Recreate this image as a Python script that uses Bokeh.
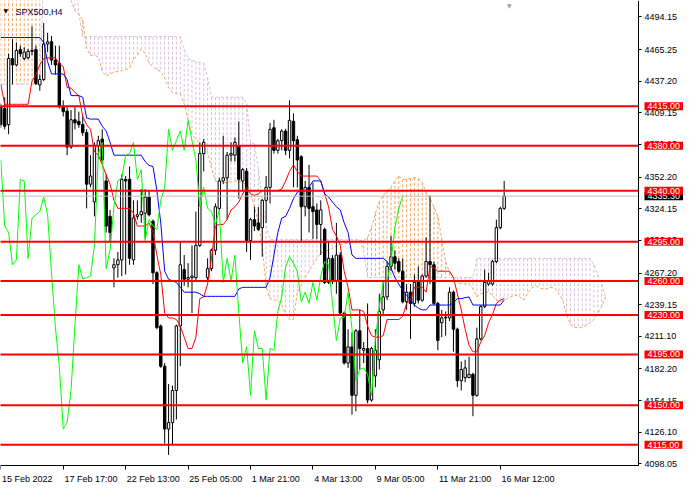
from bokeh.plotting import figure
from bokeh.models import Range1d, LinearAxis, FixedTicker, NumeralTickFormatter, Label
from bokeh.embed import file_html
from bokeh.resources import INLINE

# ---------------- data ----------------
symbol_title = "SPX500,H4"
first_bar = -1  # index of the first candle on screen

opens = [4414.5, 4413.0, 4398.7, 4457.3, 4451.6, 4465.3, 4457.3, 4457.9, 4463.6, 4465.3,
         4433.9, 4438.7, 4470.2, 4472.1, 4455.9, 4453.0, 4414.5, 4410.7, 4378.8, 4403.0,
         4401.6, 4398.7, 4391.6, 4345.9, 4330.2, 4380.2, 4385.9, 4348.8, 4317.4, 4271.7,
         4274.5, 4278.8, 4350.2, 4350.2, 4278.8, 4317.4, 4318.8, 4320.2, 4334.5, 4313.1,
         4267.4, 4220.2, 4184.6, 4128.9, 4134.6, 4163.1, 4220.2, 4270.2, 4261.7, 4263.1,
         4263.1, 4291.6, 4373.0, 4263.1, 4271.1, 4287.4, 4324.5, 4348.8, 4351.6, 4371.6,
         4371.6, 4380.2, 4348.8, 4357.3, 4295.9, 4314.5, 4311.6, 4307.4, 4331.6, 4343.1,
         4395.9, 4375.9, 4384.5, 4393.0, 4375.9, 4401.6, 4385.3, 4370.2, 4325.9, 4343.1,
         4325.9, 4323.1, 4310.2, 4305.9, 4258.8, 4280.2, 4260.2, 4283.1, 4231.7, 4187.4,
         4201.7, 4158.8, 4216.0, 4198.8, 4200.3, 4154.6, 4176.0, 4190.3, 4234.5, 4246.0,
         4273.1, 4281.6, 4277.4, 4268.8, 4241.7, 4250.2, 4240.2, 4258.8, 4243.1, 4264.5,
         4277.4, 4274.5, 4240.2, 4223.1, 4227.4, 4227.4, 4250.2, 4217.4, 4171.7, 4174.5,
         4174.5, 4177.4, 4158.8, 4208.8, 4237.4, 4257.4, 4257.4, 4277.4, 4307.4, 4324.5]
highs = [4417.3, 4423.0, 4461.6, 4474.4, 4471.6, 4468.7, 4467.3, 4465.9, 4485.9, 4468.7,
         4443.0, 4488.7, 4480.1, 4477.3, 4468.7, 4468.7, 4420.2, 4414.5, 4411.6, 4414.5,
         4410.2, 4405.9, 4394.5, 4371.6, 4383.0, 4388.8, 4394.5, 4354.5, 4323.1, 4280.2,
         4285.9, 4354.5, 4353.1, 4361.6, 4331.6, 4331.6, 4341.6, 4341.6, 4340.2, 4314.5,
         4268.8, 4221.6, 4187.4, 4168.8, 4167.4, 4221.6, 4294.5, 4283.1, 4275.9, 4291.6,
         4321.6, 4383.0, 4385.9, 4280.2, 4288.8, 4328.8, 4351.6, 4388.8, 4374.5, 4383.0,
         4387.3, 4401.6, 4360.2, 4360.2, 4316.0, 4325.9, 4325.9, 4333.0, 4353.1, 4400.2,
         4403.0, 4385.9, 4394.5, 4395.0, 4420.2, 4408.7, 4388.8, 4371.6, 4348.8, 4363.0,
         4347.3, 4328.8, 4331.6, 4307.4, 4294.5, 4283.1, 4311.6, 4285.9, 4233.1, 4217.4,
         4214.5, 4217.4, 4234.5, 4206.0, 4240.2, 4201.7, 4217.4, 4248.8, 4260.2, 4277.4,
         4300.2, 4287.4, 4280.2, 4280.2, 4257.4, 4257.4, 4265.9, 4273.1, 4265.9, 4298.8,
         4335.9, 4277.4, 4241.7, 4234.5, 4233.1, 4254.5, 4251.7, 4218.8, 4188.8, 4190.3,
         4193.1, 4178.8, 4218.8, 4238.8, 4270.2, 4267.4, 4278.8, 4314.5, 4325.9, 4348.8]
lows = [4395.9, 4394.5, 4390.2, 4434.4, 4450.2, 4458.7, 4455.9, 4456.7, 4460.2, 4433.9,
        4428.7, 4437.3, 4463.0, 4451.6, 4443.0, 4413.0, 4405.9, 4371.6, 4377.3, 4394.5,
        4395.9, 4388.8, 4324.5, 4343.1, 4317.4, 4368.8, 4364.5, 4303.1, 4294.5, 4254.5,
        4263.1, 4264.5, 4265.9, 4274.5, 4274.5, 4314.5, 4311.6, 4297.4, 4317.4, 4257.4,
        4217.4, 4183.1, 4116.0, 4106.0, 4114.6, 4137.4, 4184.6, 4255.9, 4254.5, 4231.7,
        4260.2, 4290.2, 4357.3, 4260.2, 4268.8, 4283.1, 4323.1, 4345.9, 4314.5, 4365.9,
        4365.9, 4333.1, 4340.2, 4285.9, 4278.8, 4304.5, 4304.5, 4281.6, 4311.6, 4328.8,
        4373.0, 4373.0, 4375.9, 4371.6, 4368.8, 4343.1, 4343.1, 4294.5, 4317.4, 4303.1,
        4297.4, 4297.4, 4283.1, 4257.4, 4257.4, 4257.4, 4248.8, 4230.2, 4186.0, 4183.1,
        4141.7, 4144.6, 4181.7, 4187.4, 4151.7, 4153.1, 4166.0, 4181.7, 4228.8, 4243.1,
        4268.8, 4270.2, 4267.4, 4240.2, 4234.5, 4208.8, 4237.4, 4240.2, 4241.7, 4263.1,
        4257.4, 4238.8, 4198.8, 4210.3, 4211.7, 4224.5, 4197.4, 4166.0, 4163.1, 4170.3,
        4174.0, 4140.3, 4157.4, 4207.4, 4236.0, 4255.9, 4255.9, 4275.9, 4305.9, 4323.1]
closes = [4398.7, 4397.3, 4457.3, 4451.6, 4464.4, 4461.6, 4463.0, 4463.6, 4464.4, 4435.0,
          4438.7, 4470.2, 4472.1, 4455.9, 4451.6, 4414.5, 4410.2, 4378.8, 4403.0, 4400.2,
          4398.7, 4391.6, 4345.9, 4353.1, 4380.2, 4384.5, 4367.3, 4308.8, 4303.1, 4274.5,
          4278.8, 4350.2, 4348.8, 4280.2, 4315.9, 4318.8, 4321.6, 4334.5, 4318.8, 4267.4,
          4218.8, 4184.6, 4128.9, 4134.6, 4163.1, 4220.2, 4274.5, 4261.7, 4263.1, 4264.5,
          4291.6, 4373.0, 4383.0, 4271.1, 4287.4, 4325.9, 4348.8, 4351.6, 4371.6, 4373.0,
          4383.0, 4350.2, 4358.8, 4295.9, 4314.5, 4308.8, 4305.9, 4331.6, 4343.1, 4394.5,
          4375.9, 4384.5, 4393.0, 4375.9, 4402.5, 4384.5, 4367.3, 4325.9, 4343.1, 4324.5,
          4321.6, 4310.2, 4323.1, 4258.8, 4280.2, 4260.2, 4283.1, 4231.7, 4187.4, 4201.7,
          4158.8, 4216.0, 4200.3, 4200.3, 4154.6, 4200.3, 4198.8, 4233.1, 4246.0, 4273.1,
          4281.6, 4275.9, 4268.8, 4241.7, 4250.2, 4240.2, 4258.8, 4243.1, 4264.5, 4277.4,
          4274.5, 4240.2, 4207.4, 4227.4, 4228.0, 4250.2, 4217.4, 4171.7, 4181.7, 4183.1,
          4177.4, 4158.8, 4208.8, 4237.4, 4258.8, 4260.2, 4277.4, 4307.4, 4324.5, 4335.3]

tenkan = [4434.4, 4416.7, 4416.7, 4416.7, 4416.7, 4416.7, 4416.7, 4416.7, 4437.3, 4443.0,
          4451.6, 4457.3, 4457.9, 4457.9, 4457.9, 4453.0, 4450.2, 4431.6, 4431.0, 4427.3,
          4424.4, 4405.9, 4398.7, 4394.5, 4374.5, 4371.6, 4363.0, 4354.5, 4345.9, 4331.6,
          4324.5, 4324.5, 4324.5, 4324.5, 4320.2, 4308.8, 4308.8, 4308.8, 4311.6, 4303.1,
          4283.1, 4265.9, 4231.7, 4227.4, 4227.4, 4226.0, 4220.2, 4210.3, 4200.3, 4200.3,
          4210.3, 4244.5, 4246.0, 4257.4, 4280.2, 4308.8, 4310.2, 4310.2, 4314.5, 4323.1,
          4325.9, 4330.2, 4337.3, 4343.1, 4337.3, 4335.9, 4337.3, 4340.2, 4340.2, 4340.2,
          4340.2, 4340.2, 4341.6, 4348.8, 4357.3, 4363.0, 4357.3, 4353.1, 4353.1, 4353.1,
          4353.1, 4353.1, 4348.8, 4337.3, 4325.9, 4305.9, 4300.2, 4291.6, 4268.8, 4254.5,
          4234.5, 4234.5, 4234.5, 4233.1, 4220.2, 4211.7, 4210.3, 4210.3, 4211.7, 4226.0,
          4226.0, 4226.0, 4226.0, 4228.8, 4240.2, 4243.1, 4254.5, 4254.5, 4254.5, 4250.2,
          4273.1, 4271.6, 4268.8, 4268.8, 4268.8, 4268.8, 4263.1, 4248.8, 4234.5, 4217.4,
          4203.1, 4197.4, 4197.4, 4206.0, 4211.7, 4223.1, 4230.2, 4240.2, 4243.1, 4244.5]

kijun = [4475.9, 4475.9, 4475.9, 4475.9, 4475.9, 4475.9, 4475.9, 4475.9, 4475.9, 4475.9,
         4475.9, 4471.6, 4454.4, 4443.6, 4443.6, 4443.6, 4443.6, 4438.7, 4424.4, 4424.4,
         4424.4, 4423.0, 4404.5, 4403.6, 4403.6, 4403.6, 4397.3, 4393.0, 4383.0, 4371.6,
         4371.6, 4371.6, 4371.6, 4371.6, 4371.6, 4371.6, 4371.6, 4365.9, 4362.5, 4361.6,
         4340.2, 4311.6, 4268.8, 4261.7, 4260.2, 4258.8, 4254.5, 4250.2, 4250.2, 4250.2,
         4250.2, 4248.8, 4246.5, 4246.5, 4246.5, 4246.5, 4246.5, 4246.5, 4246.5, 4246.5,
         4246.5, 4253.1, 4254.5, 4254.5, 4254.5, 4254.5, 4254.5, 4254.5, 4254.5, 4263.1,
         4283.1, 4303.1, 4315.9, 4317.4, 4324.5, 4333.1, 4338.8, 4340.2, 4340.2, 4343.1,
         4348.8, 4348.8, 4348.8, 4337.3, 4334.5, 4330.2, 4325.9, 4323.1, 4311.6, 4303.1,
         4283.1, 4280.2, 4280.2, 4280.2, 4280.2, 4280.2, 4280.2, 4280.2, 4280.2, 4277.4,
         4271.6, 4263.1, 4257.4, 4251.7, 4247.4, 4243.1, 4238.8, 4236.0, 4234.5, 4234.5,
         4238.8, 4238.8, 4238.8, 4238.8, 4238.8, 4238.8, 4240.8, 4244.5, 4244.5, 4245.4,
         4246.0, 4238.8, 4238.8, 4238.8, 4238.8, 4238.8, 4238.8, 4238.8, 4238.8, 4243.1]

# Senkou spans run 26 bars past the last candle; 4530 = above the visible area
senkou_a = [4530.0, 4530.0, 4530.0, 4530.0, 4530.0, 4530.0, 4530.0, 4530.0, 4530.0, 4530.0,
            4530.0, 4530.0, 4530.0, 4530.0, 4530.0, 4530.0, 4530.0, 4530.0, 4508.7, 4500.1,
            4495.9, 4491.6, 4465.9, 4460.2, 4460.2, 4458.7, 4445.9, 4441.6, 4443.6, 4445.3,
            4445.9, 4446.4, 4447.3, 4448.7, 4455.9, 4460.2, 4465.9, 4461.6, 4453.0, 4450.2,
            4447.3, 4445.9, 4440.2, 4431.6, 4427.3, 4426.4, 4425.9, 4417.3, 4403.0, 4390.2,
            4385.9, 4383.0, 4378.8, 4374.5, 4360.2, 4348.8, 4347.9, 4347.3, 4347.3, 4348.2,
            4348.8, 4348.8, 4347.3, 4345.9, 4338.8, 4325.9, 4311.6, 4291.6, 4254.5, 4244.5,
            4243.1, 4243.1, 4238.8, 4230.2, 4225.9, 4225.9, 4250.2, 4255.9, 4263.1, 4268.8,
            4274.5, 4280.2, 4284.5, 4286.5, 4287.4, 4288.8, 4291.1, 4292.2, 4293.1, 4293.9,
            4294.5, 4295.1, 4295.9, 4295.9, 4298.8, 4307.4, 4320.2, 4330.2, 4335.9, 4340.2,
            4343.1, 4348.8, 4353.1, 4350.2, 4350.2, 4351.1, 4351.6, 4351.1, 4347.3, 4338.8,
            4333.1, 4325.9, 4317.4, 4297.4, 4277.4, 4267.4, 4263.1, 4258.8, 4257.4, 4257.4,
            4257.4, 4253.1, 4246.0, 4248.8, 4250.2, 4250.2, 4247.4, 4243.1, 4241.7, 4243.1,
            4244.5, 4246.5, 4247.4, 4246.0, 4243.1, 4248.8, 4253.7, 4255.9, 4253.9, 4253.1,
            4253.1, 4254.5, 4253.7, 4248.8, 4243.1, 4230.2, 4221.7, 4218.8, 4218.8, 4218.8,
            4220.8, 4223.1, 4225.9, 4231.7, 4237.4, 4246.0]
senkou_b = [4434.4, 4434.4, 4434.4, 4434.4, 4434.4, 4434.4, 4434.4, 4434.4, 4434.4, 4434.4,
            4434.4, 4530.0, 4530.0, 4530.0, 4530.0, 4530.0, 4530.0, 4530.0, 4530.0, 4530.0,
            4497.3, 4476.7, 4476.7, 4476.7, 4476.7, 4476.7, 4476.7, 4476.7, 4476.7, 4476.7,
            4476.7, 4476.7, 4476.7, 4476.7, 4476.7, 4476.7, 4476.7, 4476.7, 4476.7, 4476.7,
            4476.7, 4476.7, 4476.7, 4476.7, 4476.7, 4476.7, 4476.7, 4465.9, 4457.3, 4455.9,
            4454.4, 4453.9, 4453.0, 4440.2, 4423.0, 4423.0, 4423.0, 4423.0, 4423.0, 4423.0,
            4423.0, 4423.0, 4423.0, 4417.3, 4383.0, 4381.6, 4360.2, 4331.6, 4308.8, 4296.8,
            4296.8, 4296.8, 4296.8, 4296.8, 4296.8, 4296.8, 4296.8, 4296.8, 4296.8, 4296.8,
            4296.8, 4296.8, 4296.8, 4296.8, 4296.8, 4296.8, 4296.8, 4296.8, 4296.8, 4296.8,
            4296.8, 4296.8, 4296.8, 4285.9, 4263.1, 4263.1, 4263.1, 4263.1, 4263.1, 4263.1,
            4263.1, 4263.1, 4263.1, 4263.1, 4263.1, 4263.1, 4263.1, 4263.1, 4263.1, 4263.1,
            4263.1, 4263.1, 4263.1, 4263.1, 4263.1, 4263.1, 4263.1, 4263.1, 4263.1, 4263.1,
            4263.1, 4263.1, 4280.2, 4280.2, 4280.2, 4280.2, 4280.2, 4280.2, 4280.2, 4280.2,
            4280.2, 4280.2, 4280.2, 4280.2, 4280.2, 4280.2, 4280.2, 4280.2, 4280.2, 4280.2,
            4280.2, 4280.2, 4280.2, 4280.2, 4280.2, 4280.2, 4280.2, 4280.2, 4280.2, 4280.2,
            4280.2, 4280.2, 4274.5, 4265.9, 4257.4, 4246.0]
chikou_shift = 26

levels = [4415.0, 4380.0, 4340.0, 4295.0, 4260.0, 4230.0, 4195.0, 4150.0, 4115.0]
last_price = 4335.30

price_ticks = [4494.15, 4465.25, 4437.20, 4409.15, 4381.10, 4352.20, 4324.15, 4296.10,
               4267.20, 4239.15, 4211.10, 4182.20, 4154.15, 4126.10, 4098.05]
time_labels = ["15 Feb 2022", "17 Feb 17:00", "22 Feb 13:00", "25 Feb 05:00", "1 Mar 21:00",
               "4 Mar 13:00", "9 Mar 05:00", "11 Mar 21:00", "16 Mar 12:00"]
time_label_bars = [-1, 15, 31, 47, 63, 79, 95, 111, 127]

# ---------------- layout ----------------
W, H = 684, 484
RB, BB = 46, 19                 # right price-scale strip, bottom time-scale strip (px)
PW, PH = W - RB, H - BB         # chart area inside the frame
X0, X1 = -1.075, 162.425        # bars visible in the chart area
Y0, Y1 = 4096.6, 4508.7         # prices visible in the chart area
XEND = X0 + (X1 - X0) * W / PW
YBOT = Y1 - (Y1 - Y0) * H / PH
FONT = "Liberation Sans"
FS = "9px"

bars = [first_bar + i for i in range(len(closes))]
cloud_x = [first_bar + i for i in range(len(senkou_a))]

p = figure(width=W, height=H, output_backend="svg", toolbar_location=None,
           x_range=Range1d(X0, XEND), y_range=Range1d(YBOT, Y1),
           x_axis_location=None, y_axis_location=None,
           min_border_left=0, min_border_top=0, min_border_right=0, min_border_bottom=0,
           background_fill_color="white", border_fill_color="white", outline_line_color=None)
p.grid.visible = False

# right price axis, pinned at the right edge of the chart area
yax = LinearAxis(fixed_location=X1, bounds=(Y0, Y1),
                 ticker=FixedTicker(ticks=price_ticks), formatter=NumeralTickFormatter(format="0.00"),
                 major_tick_out=3, major_tick_in=0, minor_tick_line_color=None,
                 major_tick_line_color="black", axis_line_color="black",
                 major_label_standoff=3, major_label_text_font=FONT,
                 major_label_text_font_size=FS, major_label_text_color="black")
p.add_layout(yax, "right")

# bottom time axis (tick marks; labels are left-aligned annotations)
xax = LinearAxis(fixed_location=Y0, bounds=(X0, X1),
                 ticker=FixedTicker(ticks=time_label_bars), major_tick_out=4, major_tick_in=0,
                 minor_tick_line_color=None, major_tick_line_color="black", axis_line_color="black",
                 major_label_text_font_size="0px", major_label_standoff=0)
xax.major_label_overrides = {t: "" for t in time_label_bars}
p.add_layout(xax, "below")

# Ichimoku cloud (dotted histogram between the spans)
cloud_colors = ["#F4A460" if a >= b else "#D8BFD8" for a, b in zip(senkou_a, senkou_b)]
cloud_top = [min(max(a, b), Y1 + 2) for a, b in zip(senkou_a, senkou_b)]
cloud_bot = [min(min(a, b), Y1 + 2) for a, b in zip(senkou_a, senkou_b)]
p.segment(x0=cloud_x, y0=cloud_top, x1=cloud_x, y1=cloud_bot,
          line_color=cloud_colors, line_dash="3 2", line_width=1)
p.line(cloud_x, senkou_a, line_color="#F4A460", line_dash="3 2", line_width=1)
p.line(cloud_x, senkou_b, line_color="#D8BFD8", line_dash="3 2", line_width=1)

# candles
body_top = [max(o, c) for o, c in zip(opens, closes)]
body_bot = [min(o, c) for o, c in zip(opens, closes)]
body_fill = ["white" if c >= o else "black" for o, c in zip(opens, closes)]
p.segment(x0=bars, y0=highs, x1=bars, y1=lows, line_color="black", line_width=1)
p.vbar(x=bars, top=body_top, bottom=body_bot, width=0.62, fill_color=body_fill,
       line_color="black", line_width=1)

# Ichimoku lines
p.line(bars, tenkan, line_color="#FF0000", line_width=1)
p.line(bars, kijun, line_color="#0000FF", line_width=1)
chikou_x = [b - chikou_shift for b in bars[chikou_shift:]]
chikou_y = closes[chikou_shift:]
p.line(chikou_x, chikou_y, line_color="#00FF00", line_width=1)

# current price line and horizontal levels (end at the price scale)
p.segment(x0=[X0 - 1], y0=[last_price], x1=[X1], y1=[last_price], line_color="#C0C0C0", line_width=1)
p.segment(x0=[X0 - 1] * len(levels), y0=levels, x1=[X1] * len(levels), y1=levels,
          line_color="#FF0000", line_width=2)

# price-scale labels
p.add_layout(Label(x=PW + 6, x_units="screen", y=last_price, y_units="data",
                   text=f"{last_price:.2f}", text_color="white", text_font=FONT, text_font_size=FS,
                   text_baseline="middle", text_align="left",
                   background_fill_color="black", padding=(3, 1)))
for lv in levels:
    p.add_layout(Label(x=PW + 6, x_units="screen", y=lv, y_units="data",
                       text=f"{lv:.2f}", text_color="white", text_font=FONT, text_font_size=FS,
                       text_baseline="middle", text_align="left",
                       background_fill_color="#FF0000", padding=(3, 1)))

# time labels
for b, t in zip(time_label_bars, time_labels):
    p.add_layout(Label(x=b + 0.3, x_units="data", y=BB - 13, y_units="screen", text=t,
                       text_font=FONT, text_font_size=FS, text_color="black",
                       text_align="left", text_baseline="alphabetic"))

# title
p.add_layout(Label(x=3, y=H - 9.5, x_units="screen", y_units="screen", text="\u25BC",
                   text_font="DejaVu Sans", text_font_size="6px", text_color="black",
                   text_baseline="alphabetic"))
p.add_layout(Label(x=15, y=H - 11.5, x_units="screen", y_units="screen", text=symbol_title,
                   text_font=FONT, text_font_size=FS, text_color="#000033",
                   text_baseline="alphabetic"))
# chart-shift marker
p.add_layout(Label(x=129.3, x_units="data", y=H - 5, y_units="screen", text="\u25BC",
                   text_font="DejaVu Sans", text_font_size="6px", text_color="#A0A0A0",
                   text_align="center", text_baseline="alphabetic"))

open("out.html", "w").write(file_html(p, INLINE))
